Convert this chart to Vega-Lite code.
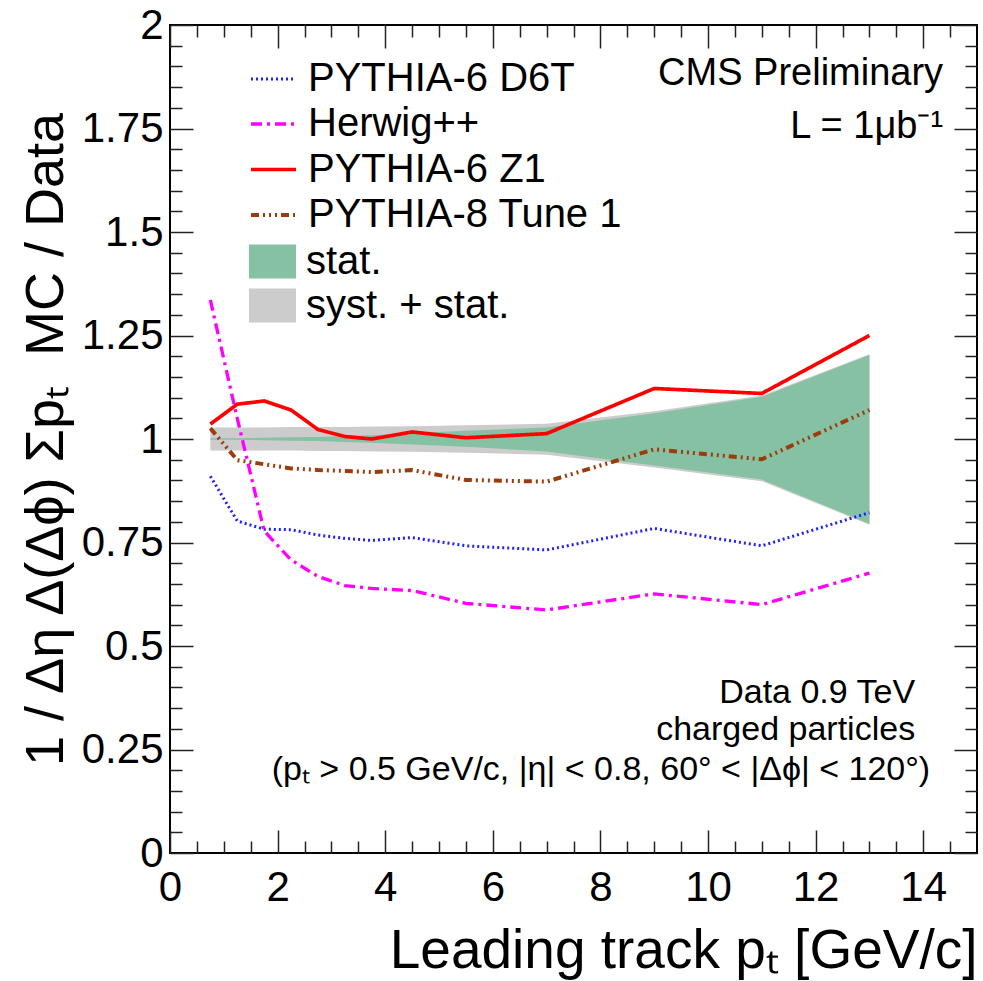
{
  "$schema": "https://vega.github.io/schema/vega-lite/v6.json",
  "width": 807,
  "height": 828,
  "autosize": {"type": "none"},
  "padding": {"left": 170, "top": 25, "right": 6, "bottom": 128},
  "background": "white",
  "config": {
    "font": "Liberation Sans",
    "view": {"stroke": "black", "strokeWidth": 2},
    "axis": {
      "grid": false,
      "domain": false,
      "labelFont": "Liberation Sans",
      "labelColor": "black",
      "labelFlush": false,
      "labelOverlap": false,
      "tickColor": "#222222",
      "tickWidth": 1.5,
      "titleFont": "Liberation Sans",
      "titleColor": "black",
      "titleFontWeight": "normal",
      "zindex": 2
    },
    "legend": {
      "labelFont": "Liberation Sans",
      "labelColor": "black",
      "labelFontSize": 40,
      "labelLimit": 0,
      "padding": 0
    }
  },
  "datasets": {
    "models": [
      {"pt": 0.75, "ratio": 0.91, "model": "PYTHIA-6 D6T"},
      {"pt": 1.25, "ratio": 0.802, "model": "PYTHIA-6 D6T"},
      {"pt": 1.75, "ratio": 0.782, "model": "PYTHIA-6 D6T"},
      {"pt": 2.25, "ratio": 0.781, "model": "PYTHIA-6 D6T"},
      {"pt": 2.75, "ratio": 0.768, "model": "PYTHIA-6 D6T"},
      {"pt": 3.25, "ratio": 0.76, "model": "PYTHIA-6 D6T"},
      {"pt": 3.75, "ratio": 0.755, "model": "PYTHIA-6 D6T"},
      {"pt": 4.5, "ratio": 0.762, "model": "PYTHIA-6 D6T"},
      {"pt": 5.5, "ratio": 0.742, "model": "PYTHIA-6 D6T"},
      {"pt": 7.0, "ratio": 0.732, "model": "PYTHIA-6 D6T"},
      {"pt": 9.0, "ratio": 0.784, "model": "PYTHIA-6 D6T"},
      {"pt": 11.0, "ratio": 0.742, "model": "PYTHIA-6 D6T"},
      {"pt": 13.0, "ratio": 0.822, "model": "PYTHIA-6 D6T"},
      {"pt": 0.75, "ratio": 1.336, "model": "Herwig++"},
      {"pt": 1.25, "ratio": 1.05, "model": "Herwig++"},
      {"pt": 1.75, "ratio": 0.778, "model": "Herwig++"},
      {"pt": 2.25, "ratio": 0.708, "model": "Herwig++"},
      {"pt": 2.75, "ratio": 0.668, "model": "Herwig++"},
      {"pt": 3.25, "ratio": 0.646, "model": "Herwig++"},
      {"pt": 3.75, "ratio": 0.639, "model": "Herwig++"},
      {"pt": 4.5, "ratio": 0.634, "model": "Herwig++"},
      {"pt": 5.5, "ratio": 0.603, "model": "Herwig++"},
      {"pt": 7.0, "ratio": 0.587, "model": "Herwig++"},
      {"pt": 9.0, "ratio": 0.626, "model": "Herwig++"},
      {"pt": 11.0, "ratio": 0.6, "model": "Herwig++"},
      {"pt": 13.0, "ratio": 0.676, "model": "Herwig++"},
      {"pt": 0.75, "ratio": 1.036, "model": "PYTHIA-6 Z1"},
      {"pt": 1.25, "ratio": 1.084, "model": "PYTHIA-6 Z1"},
      {"pt": 1.75, "ratio": 1.092, "model": "PYTHIA-6 Z1"},
      {"pt": 2.25, "ratio": 1.07, "model": "PYTHIA-6 Z1"},
      {"pt": 2.75, "ratio": 1.023, "model": "PYTHIA-6 Z1"},
      {"pt": 3.25, "ratio": 1.006, "model": "PYTHIA-6 Z1"},
      {"pt": 3.75, "ratio": 1.0, "model": "PYTHIA-6 Z1"},
      {"pt": 4.5, "ratio": 1.017, "model": "PYTHIA-6 Z1"},
      {"pt": 5.5, "ratio": 1.003, "model": "PYTHIA-6 Z1"},
      {"pt": 7.0, "ratio": 1.013, "model": "PYTHIA-6 Z1"},
      {"pt": 9.0, "ratio": 1.122, "model": "PYTHIA-6 Z1"},
      {"pt": 11.0, "ratio": 1.11, "model": "PYTHIA-6 Z1"},
      {"pt": 13.0, "ratio": 1.25, "model": "PYTHIA-6 Z1"},
      {"pt": 0.75, "ratio": 1.026, "model": "PYTHIA-8 Tune 1"},
      {"pt": 1.25, "ratio": 0.949, "model": "PYTHIA-8 Tune 1"},
      {"pt": 1.75, "ratio": 0.939, "model": "PYTHIA-8 Tune 1"},
      {"pt": 2.25, "ratio": 0.929, "model": "PYTHIA-8 Tune 1"},
      {"pt": 2.75, "ratio": 0.925, "model": "PYTHIA-8 Tune 1"},
      {"pt": 3.25, "ratio": 0.923, "model": "PYTHIA-8 Tune 1"},
      {"pt": 3.75, "ratio": 0.92, "model": "PYTHIA-8 Tune 1"},
      {"pt": 4.5, "ratio": 0.925, "model": "PYTHIA-8 Tune 1"},
      {"pt": 5.5, "ratio": 0.901, "model": "PYTHIA-8 Tune 1"},
      {"pt": 7.0, "ratio": 0.897, "model": "PYTHIA-8 Tune 1"},
      {"pt": 9.0, "ratio": 0.975, "model": "PYTHIA-8 Tune 1"},
      {"pt": 11.0, "ratio": 0.951, "model": "PYTHIA-8 Tune 1"},
      {"pt": 13.0, "ratio": 1.07, "model": "PYTHIA-8 Tune 1"}
    ],
    "bands": [
      {"pt": 0.75, "stat_lo": 0.998, "stat_hi": 1.002, "syst_lo": 0.972, "syst_hi": 1.028},
      {"pt": 1.25, "stat_lo": 0.998, "stat_hi": 1.002, "syst_lo": 0.972, "syst_hi": 1.028},
      {"pt": 1.75, "stat_lo": 0.997, "stat_hi": 1.003, "syst_lo": 0.972, "syst_hi": 1.028},
      {"pt": 2.25, "stat_lo": 0.996, "stat_hi": 1.004, "syst_lo": 0.972, "syst_hi": 1.029},
      {"pt": 2.75, "stat_lo": 0.995, "stat_hi": 1.005, "syst_lo": 0.971, "syst_hi": 1.029},
      {"pt": 3.25, "stat_lo": 0.993, "stat_hi": 1.007, "syst_lo": 0.971, "syst_hi": 1.029},
      {"pt": 3.75, "stat_lo": 0.991, "stat_hi": 1.009, "syst_lo": 0.970, "syst_hi": 1.030},
      {"pt": 4.5, "stat_lo": 0.987, "stat_hi": 1.014, "syst_lo": 0.969, "syst_hi": 1.031},
      {"pt": 5.5, "stat_lo": 0.981, "stat_hi": 1.02, "syst_lo": 0.967, "syst_hi": 1.033},
      {"pt": 7.0, "stat_lo": 0.97, "stat_hi": 1.028, "syst_lo": 0.962, "syst_hi": 1.037},
      {"pt": 9.0, "stat_lo": 0.936, "stat_hi": 1.062, "syst_lo": 0.931, "syst_hi": 1.067},
      {"pt": 11.0, "stat_lo": 0.902, "stat_hi": 1.102, "syst_lo": 0.898, "syst_hi": 1.105},
      {"pt": 13.0, "stat_lo": 0.795, "stat_hi": 1.203, "syst_lo": 0.793, "syst_hi": 1.205}
    ],
    "header": [
      {"x": 14.37, "y": 1.855, "note": "CMS Preliminary"},
      {"x": 14.37, "y": 1.727, "note": "L = 1μb⁻¹"}
    ],
    "cuts": [
      {"x": 13.85, "y": 0.362, "note": "Data 0.9 TeV"},
      {"x": 13.85, "y": 0.273, "note": "charged particles"},
      {"x": 14.13, "y": 0.176, "note": "(pₜ > 0.5 GeV/c, |η| < 0.8, 60° < |Δϕ| < 120°)"}
    ]
  },
  "layer": [
    {
      "data": {"name": "bands"},
      "mark": {"type": "area", "opacity": 1},
      "encoding": {
        "x": {
          "field": "pt", "type": "quantitative",
          "scale": {"domain": [0, 15], "nice": false, "zero": false},
          "axis": {
            "orient": "bottom",
            "values": [0, 2, 4, 6, 8, 10, 12, 14],
            "tickSize": -23,
            "labelPadding": 37,
            "labelFontSize": 42,
            "title": "Leading track pₜ [GeV/c]",
            "titleFontSize": 55,
            "titleAnchor": "end",
            "titleBaseline": "alphabetic",
            "titleY": 114
          }
        },
        "y": {
          "field": "syst_lo", "type": "quantitative",
          "scale": {"domain": [0, 2], "nice": false, "zero": false},
          "axis": {
            "orient": "left",
            "values": [0, 0.25, 0.5, 0.75, 1, 1.25, 1.5, 1.75, 2],
            "labelExpr": "'' + datum.value",
            "tickSize": -23,
            "labelPadding": 30,
            "labelFontSize": 42,
            "title": "1 / Δη Δ(Δϕ) Σpₜ\u00a0\u00a0MC / Data",
            "titleFontSize": 54,
            "titleBaseline": "alphabetic",
            "titleX": -108
          }
        },
        "y2": {"field": "syst_hi"},
        "fill": {
          "datum": "syst. + stat.",
          "scale": {"domain": ["stat.", "syst. + stat."], "range": ["#86c1a4", "#cccccc"]},
          "legend": {
            "orient": "none",
            "legendX": 79,
            "legendY": 213,
            "title": null,
            "symbolType": "M-1,-0.72H1V0.72H-1Z",
            "symbolSize": 2209,
            "symbolStrokeWidth": 0,
            "labelOffset": 10,
            "rowPadding": -2
          }
        }
      }
    },
    {
      "data": {"name": "bands"},
      "mark": {"type": "area", "opacity": 1},
      "encoding": {
        "x": {
          "field": "pt", "type": "quantitative",
          "axis": {
            "orient": "bottom",
            "values": [0.5, 1, 1.5, 2.5, 3, 3.5, 4.5, 5, 5.5, 6.5, 7, 7.5, 8.5, 9, 9.5, 10.5, 11, 11.5, 12.5, 13, 13.5, 14.5],
            "tickSize": -12,
            "labels": false,
            "title": null
          }
        },
        "y": {
          "field": "stat_lo", "type": "quantitative",
          "axis": {
            "orient": "left",
            "values": [0.05, 0.1, 0.15, 0.2, 0.3, 0.35, 0.4, 0.45, 0.55, 0.6, 0.65, 0.7, 0.8, 0.85, 0.9, 0.95, 1.05, 1.1, 1.15, 1.2, 1.3, 1.35, 1.4, 1.45, 1.55, 1.6, 1.65, 1.7, 1.8, 1.85, 1.9, 1.95],
            "tickSize": -12,
            "labels": false,
            "title": null
          }
        },
        "y2": {"field": "stat_hi"},
        "fill": {"datum": "stat."}
      }
    },
    {
      "data": {"name": "models"},
      "mark": {"type": "line", "strokeCap": "butt"},
      "encoding": {
        "x": {
          "field": "pt", "type": "quantitative",
          "axis": {
            "orient": "top",
            "values": [0, 2, 4, 6, 8, 10, 12, 14],
            "tickSize": -23,
            "labels": false,
            "title": null
          }
        },
        "y": {
          "field": "ratio", "type": "quantitative",
          "axis": {
            "orient": "right",
            "values": [0, 0.25, 0.5, 0.75, 1, 1.25, 1.5, 1.75, 2],
            "tickSize": -23,
            "labels": false,
            "title": null
          }
        },
        "stroke": {
          "field": "model", "type": "nominal",
          "scale": {
            "domain": ["PYTHIA-6 D6T", "Herwig++", "PYTHIA-6 Z1", "PYTHIA-8 Tune 1"],
            "range": ["#1f1fff", "#ff00ff", "#ff0000", "#9c3c0c"]
          },
          "legend": {
            "orient": "none",
            "legendX": 79,
            "legendY": 30,
            "title": null,
            "symbolType": "stroke",
            "symbolSize": 2025,
            "labelOffset": 10,
            "rowPadding": 0.5
          }
        },
        "strokeDash": {
          "field": "model", "type": "nominal",
          "scale": {
            "domain": ["PYTHIA-6 D6T", "Herwig++", "PYTHIA-6 Z1", "PYTHIA-8 Tune 1"],
            "range": [[2, 3], [11, 5, 3, 5], [1, 0], [8, 4, 2, 4, 2, 4, 2, 4]]
          }
        },
        "strokeWidth": {
          "field": "model", "type": "nominal",
          "scale": {
            "domain": ["PYTHIA-6 D6T", "Herwig++", "PYTHIA-6 Z1", "PYTHIA-8 Tune 1"],
            "range": [3, 4, 4.5, 4]
          }
        }
      }
    },
    {
      "data": {"name": "header"},
      "mark": {"type": "text", "align": "right", "baseline": "alphabetic", "fontSize": 38, "font": "Liberation Sans", "color": "black"},
      "encoding": {
        "x": {
          "field": "x", "type": "quantitative",
          "axis": {
            "orient": "top",
            "values": [0.5, 1, 1.5, 2.5, 3, 3.5, 4.5, 5, 5.5, 6.5, 7, 7.5, 8.5, 9, 9.5, 10.5, 11, 11.5, 12.5, 13, 13.5, 14.5],
            "tickSize": -12,
            "labels": false,
            "title": null
          }
        },
        "y": {
          "field": "y", "type": "quantitative",
          "axis": {
            "orient": "right",
            "values": [0.05, 0.1, 0.15, 0.2, 0.3, 0.35, 0.4, 0.45, 0.55, 0.6, 0.65, 0.7, 0.8, 0.85, 0.9, 0.95, 1.05, 1.1, 1.15, 1.2, 1.3, 1.35, 1.4, 1.45, 1.55, 1.6, 1.65, 1.7, 1.8, 1.85, 1.9, 1.95],
            "tickSize": -12,
            "labels": false,
            "title": null
          }
        },
        "text": {"field": "note"}
      }
    },
    {
      "data": {"name": "cuts"},
      "mark": {"type": "text", "align": "right", "baseline": "alphabetic", "fontSize": 34, "font": "Liberation Sans", "color": "black"},
      "encoding": {
        "x": {"field": "x", "type": "quantitative", "axis": null},
        "y": {"field": "y", "type": "quantitative", "axis": null},
        "text": {"field": "note"}
      }
    }
  ],
  "resolve": {"axis": {"x": "independent", "y": "independent"}}
}
